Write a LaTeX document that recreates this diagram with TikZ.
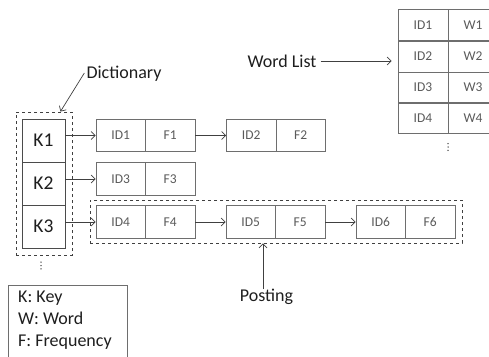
\documentclass[tikz,border=0pt]{standalone}
\usepackage{fontspec}
\setmainfont{Carlito}
\usetikzlibrary{arrows.meta}
\definecolor{boxgray}{HTML}{6E6E6E}
\definecolor{txtgray}{HTML}{5A5A5A}
\definecolor{ink}{HTML}{1E1E1E}
\tikzset{
  cell/.style={draw=boxgray, line width=0.8pt, minimum width=49.5pt, minimum height=32.5pt, inner sep=0pt, text=txtgray, font=\fontsize{13.5}{14}\selectfont},
  wcell/.style={cell, minimum width=50pt, minimum height=31pt},
  kcell/.style={draw=ink!80, line width=0.9pt, minimum width=43pt, minimum height=43pt, inner sep=0pt, text=ink, font=\fontsize{19.5}{20}\selectfont},
  dashbox/.style={draw=ink!85, dashed, line width=0.9pt, inner sep=0pt},
  lbl/.style={text=ink, font=\fontsize{18}{18}\selectfont, inner sep=0pt},
  link/.style={draw=ink!85, line width=0.7pt, -{Straight Barb[length=4pt,width=8pt]}},
  dotmark/.style={fill=ink!85, draw=none}
}
\begin{document}
\begin{tikzpicture}[x=1pt,y=-1pt]
\useasboundingbox (0,0) rectangle (489,356);
% dictionary keys
\node[kcell] (K1) at (43.5,140.5) {K1};
\node[kcell] (K2) at (43.5,183.5) {K2};
\node[kcell] (K3) at (43.5,226.5) {K3};
\node[dashbox, minimum width=56pt, minimum height=143pt] (dictbox) at (44,183.5) {};
\coordinate (kdots) at (41,265.5);
\foreach \d in {-3.3,0,3.3} \fill[dotmark] ([yshift=\d pt]kdots) circle (0.75pt);
% postings
\node[cell] (ID1) at (120.75,135.5) {ID1};
\node[cell] (F1) at (170.25,135.5) {F1};
\node[cell] (ID2) at (251.25,135.5) {ID2};
\node[cell] (F2) at (300.75,135.5) {F2};
\node[cell] (ID3) at (120.75,179) {ID3};
\node[cell] (F3) at (170.25,179) {F3};
\node[cell] (ID4) at (120.75,222) {ID4};
\node[cell] (F4) at (170.25,222) {F4};
\node[cell] (ID5) at (250.75,222) {ID5};
\node[cell] (F5) at (300.25,222) {F5};
\node[cell] (ID6) at (380.75,222) {ID6};
\node[cell] (F6) at (430.25,222) {F6};
\node[dashbox, minimum width=372pt, minimum height=43pt] (postbox) at (276,221.5) {};
% links
\draw[link] (K1.east |- ID1.west) -- (ID1.west);
\draw[link] (K2.east |- ID3.west) -- (ID3.west);
\draw[link] (K3.east |- ID4.west) -- (ID4.west);
\draw[link] (F1.east) -- (ID2.west);
\draw[link] (F4.east) -- (ID5.west);
\draw[link] (F5.east) -- (ID6.west);
% word list table
\node[wcell] (T1) at (423,25) {ID1};
\node[wcell] (W1) at (473,25) {W1};
\node[wcell] (T2) at (423,56.5) {ID2};
\node[wcell] (W2) at (473,56.5) {W2};
\node[wcell] (T3) at (423,87.5) {ID3};
\node[wcell] (W3) at (473,87.5) {W3};
\node[wcell] (T4) at (423,118) {ID4};
\node[wcell] (W4) at (473,118) {W4};
\coordinate (wdots) at (448,147);
\foreach \d in {-3.3,0,3.3} \fill[dotmark] ([yshift=\d pt]wdots) circle (0.75pt);
% labels
\node[lbl] (wl) at (282,61) {Word List};
\draw[link] ([xshift=4pt]wl.east) -- ([xshift=-6pt]wl.east -| T2.west);
\node[lbl] (dict) at (124,74) {Dictionary};
\draw[link] ([xshift=-2pt,yshift=1pt]dict.west) -- ([xshift=-12pt]dictbox.north east);
\node[lbl] (post) at (266.5,297) {Posting};
\draw[link] (post.north -| 263,0) -- (postbox.south -| 263,0);
% legend
\node[draw=boxgray, line width=0.8pt, minimum width=119pt, minimum height=82pt, inner sep=0pt] (legend) at (67.5,326) {};
\node[lbl, anchor=north west, align=left, font=\fontsize{18}{22}\selectfont] (legtext) at (18,291) {K: Key\\W: Word\\F: Frequency};
\end{tikzpicture}
\end{document}
